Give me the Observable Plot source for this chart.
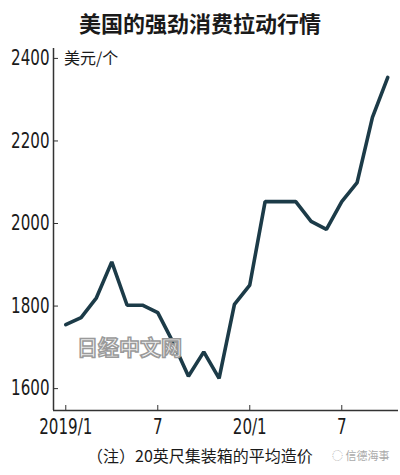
<!DOCTYPE html>
<html><head><meta charset="utf-8">
<script src="https://cdn.jsdelivr.net/npm/d3@7"></script>
<script src="https://cdn.jsdelivr.net/npm/@observablehq/plot@0.6"></script>
<style>
body{margin:0;background:#fff;width:400px;height:475px;overflow:hidden;position:relative;font-family:"Noto Sans CJK SC","Noto Sans",sans-serif;color:#1a1a1a;}
#title{position:absolute;top:6px;left:0;width:400px;text-align:center;font-size:22px;font-weight:bold;line-height:32px;}
#chart{position:absolute;top:40px;left:0;}
#unit{position:absolute;top:46px;left:64px;font-size:16px;line-height:22px;}
#caption{position:absolute;top:443px;left:0;width:400px;text-align:center;font-size:16px;line-height:24px;}
#wm1{position:absolute;top:333px;left:77px;font-size:21px;font-weight:bold;color:#f4f4f4;-webkit-text-stroke:1.5px #9a9a9a;line-height:26px;}
#wm2{position:absolute;top:447px;left:332px;font-size:11px;color:#aaa;line-height:16px;}
</style></head>
<body>
<div id="title">美国的强劲消费拉动行情</div>
<div id="chart"></div>
<div id="unit">美元/个</div>
<div id="wm1">日经中文网</div>
<div id="caption">（注）20英尺集装箱的平均造价</div>
<div id="wm2">◌ 信德海事</div>
<script>
const months = ["2019/1","2019/2","2019/3","2019/4","2019/5","2019/6","2019/7","2019/8","2019/9","2019/10","2019/11","2019/12",
                "2020/1","2020/2","2020/3","2020/4","2020/5","2020/6","2020/7","2020/8","2020/9","2020/10"];
const prices = [1755,1772,1820,1907,1802,1802,1784,1712,1630,1689,1625,1804,
                1851,2053,2053,2053,2005,1986,2053,2099,2257,2354];
const yTicks = [1600,1800,2000,2200,2400];
const xTickIndex = [0,6,12,18];
const xTickLabels = ["2019/1","7","20/1","7"];

const data = months.map((m,i)=>({i, month:m, price:prices[i]}));
const xDomain = [-0.8, 21.7];
const yDomain = [1547, 2424];
const numFont = "'Liberation Sans Narrow','DejaVu Sans Condensed',sans-serif";

const chart = Plot.plot({
  width: 400, height: 400,
  marginLeft: 53, marginRight: 2, marginTop: 8, marginBottom: 30,
  style: {background:"#fff", color:"#1a1a1a", fontFamily: numFont, fontSize:"21px"},
  x: {domain: xDomain},
  y: {domain: yDomain},
  marks: [
    Plot.ruleX([xDomain[0]], {stroke:"#333", strokeWidth:1.5}),
    Plot.ruleY([yDomain[0]], {stroke:"#333", strokeWidth:1.5}),
    Plot.axisY({ticks: yTicks, tickSize: -5, tickPadding: 9, label: null, tickFormat: d=>String(d), stroke:"#333", fontSize:21}),
    Plot.axisX({ticks: xTickIndex, tickSize: -5, tickPadding: 14, label: null, tickFormat: d=>xTickLabels[xTickIndex.indexOf(d)], stroke:"#333", fontSize:21}),
    Plot.line(data, {x:"i", y:"price", stroke:"#1c3b48", strokeWidth:3.6, strokeLinejoin:"miter", strokeLinecap:"round"})
  ]
});
// condense the numeric tick labels horizontally, like the reference's narrow face
chart.querySelectorAll('g[aria-label="y-axis tick label"] text, g[aria-label="x-axis tick label"] text').forEach(t => {
  t.setAttribute("transform", (t.getAttribute("transform") || "") + " scale(0.8,1)");
});
document.getElementById("chart").appendChild(chart);
</script>
</body></html>
